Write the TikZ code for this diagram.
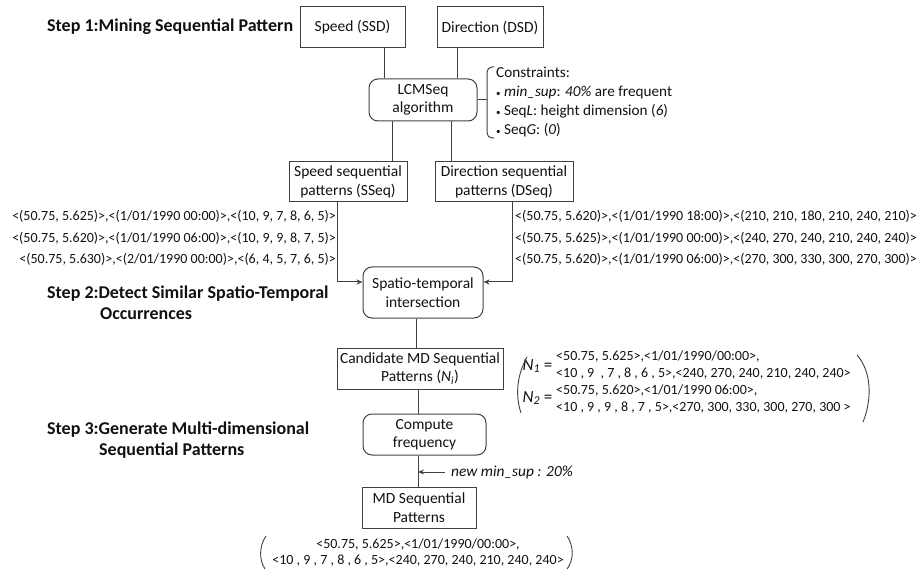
\documentclass[tikz,border=0pt]{standalone}
\usepackage{fontspec}
\setmainfont{Carlito}
\usetikzlibrary{arrows.meta}
\newcommand\myfs[2]{\fontsize{#1}{#2}\selectfont}
\definecolor{lc}{HTML}{404040}
\definecolor{tc}{HTML}{111111}
\begin{document}
\begin{tikzpicture}[x=1pt,y=-1pt,
  line/.style={draw=lc, line width=1pt},
  box/.style={draw=lc, line width=1pt, inner sep=0pt, align=center, text=tc, font=\myfs{15.5}{18.5}},
  rbox/.style={box, rounded corners=9pt},
  arr/.style={line, -{Stealth[length=6pt,width=5pt]}},
  steplab/.style={anchor=west, align=left, inner sep=0pt, text=tc, font=\bfseries\myfs{18}{21}},
  data/.style={inner sep=0pt, text=tc, font=\myfs{14}{21.3}},
  ndata/.style={inner sep=0pt, text=tc, font=\myfs{14}{16.7}},
  paren/.style={draw=lc, line width=0.9pt}]
\useasboundingbox (0,0) rectangle (924,572);

% step labels
\node[steplab] (s1) at (47,27) {Step 1:Mining Sequential Pattern};
\node[steplab] (s2) at (47,302.5) {Step 2:Detect Similar Spatio-Temporal\\\hspace*{53pt}Occurrences};
\node[steplab] (s3) at (47,440.5) {Step 3:Generate Multi-dimensional\\\hspace*{52pt}Sequential Patterns};

% boxes
\node[box, minimum width=105pt, minimum height=41pt] (ssd) at (352.5,27.5) {Speed (SSD)};
\node[box, minimum width=106pt, minimum height=41pt] (dsd) at (490,27.5) {Direction (DSD)};
\node[rbox, minimum width=108pt, minimum height=42pt] (lcm) at (423,100) {LCMSeq\\algorithm};
\node[box, minimum width=118pt, minimum height=40pt] (sseq) at (348,182) {Speed sequential\\patterns (SSeq)};
\node[box, minimum width=138pt, minimum height=40pt] (dseq) at (504,182) {Direction sequential\\patterns (DSeq)};
\node[rbox, minimum width=120pt, minimum height=51pt] (spt) at (423,292.5) {Spatio-temporal\\intersection};
\node[box, minimum width=166pt, minimum height=41pt] (cand) at (420,368.5) {Candidate MD Sequential\\Patterns (\textit{N}\textsubscript{\textit{i}})};
\node[rbox, minimum width=123pt, minimum height=41pt] (comp) at (424.5,434.5) {Compute\\frequency};
\node[box, minimum width=114pt, minimum height=41pt] (md) at (419,507.5) {MD Sequential\\Patterns};

% constraints
\node[anchor=west, align=left, inner sep=0pt, text=tc, font=\myfs{15.2}{19}] (cons) at (496,101.5)
 {Constraints:\\
  {\myfs{9}{9}•} \textit{min\_sup}: \textit{40\%} are frequent\\
  {\myfs{9}{9}•} Seq\textit{L}: height dimension (\textit{6})\\
  {\myfs{9}{9}•} Seq\textit{G}: (\textit{0})};
\coordinate (br) at (487,100);
\draw[line] (lcm.east) -- (br);
\draw[line, rounded corners=5pt] ([xshift=7pt,yshift=33pt]br) -- ([yshift=33pt]br) -- ([yshift=-38pt]br) -- ([xshift=7pt,yshift=-38pt]br);

% sequence data
\node[data, anchor=east, align=right] (sdat) at (336,238) {<(50.75, 5.625)>,<(1/01/1990 00:00)>,<(10, 9, 7, 8, 6, 5)>\\<(50.75, 5.620)>,<(1/01/1990 06:00)>,<(10, 9, 9, 8, 7, 5)>\\<(50.75, 5.630)>,<(2/01/1990 00:00)>,<(6, 4, 5, 7, 6, 5)>};
\node[data, anchor=west, align=left] (ddat) at (515,238) {<(50.75, 5.620)>,<(1/01/1990 18:00)>,<(210, 210, 180, 210, 240, 210)>\\<(50.75, 5.625)>,<(1/01/1990 00:00)>,<(240, 270, 240, 210, 240, 240)>\\<(50.75, 5.620)>,<(1/01/1990 06:00)>,<(270, 300, 330, 300, 270, 300)>};

% connector x positions
\coordinate (xa) at (384,0);
\coordinate (xb) at (457,0);
\coordinate (xc) at (392,0);
\coordinate (xd) at (451,0);
\coordinate (xe) at (337,0);
\coordinate (xf) at (512,0);
\coordinate (xg) at (416,0);
\coordinate (xh) at (418,0);

\draw[line] (xa |- ssd.south) -- (xa |- lcm.north);
\draw[line] (xb |- dsd.south) -- (xb |- lcm.north);
\draw[line] (xc |- lcm.south) -- (xc |- sseq.north);
\draw[line] (xd |- lcm.south) -- (xd |- dseq.north);
\draw[arr] (xe |- sseq.south) |- ([yshift=10.5pt]spt.west);
\draw[arr] (xf |- dseq.south) |- ([yshift=10.5pt]spt.east);
\draw[line] (xg |- spt.south) -- (xg |- cand.north);
\draw[line] (xh |- cand.south) -- (xh |- comp.north);
\draw[line] (xh |- comp.south) -- (xh |- md.north);

% new min_sup
\coordinate (ms) at (445,472);
\draw[arr] (ms) -- (ms -| xh);
\node[anchor=west, inner sep=0pt, text=tc, font=\itshape\myfs{15.4}{17}] (mst) at (451,472) {new min\_sup : 20\%};

% N block
\node[inner sep=0pt, text=tc, font=\myfs{17}{17}] (n1) at (537.5,366) {\textit{N}\textsubscript{\textit{1}} =};
\node[inner sep=0pt, text=tc, font=\myfs{17}{17}] (n2) at (537.5,398) {\textit{N}\textsubscript{\textit{2}} =};
\node[ndata, anchor=west, align=left] (ndat) at (556,382) {<50.75, 5.625>,<1/01/1990/00:00>,\\<10 , 9 \ , 7 , 8 , 6 , 5>,<240, 270, 240, 210, 240, 240>\\<50.75, 5.620>,<1/01/1990 06:00>,\\<10 , 9 , 9 , 8 , 7 , 5>,<270, 300, 330, 300, 270, 300 >};
\draw[paren] (527,357) .. controls (517,375) and (515,395) .. (521,413);
\draw[paren] (857,355) .. controls (872,372) and (872,400) .. (863,422);

% result
\node[ndata, align=center] (res) at (418,552.5) {<50.75, 5.625>,<1/01/1990/00:00>,\\<10 , 9 , 7 , 8 , 6 , 5>,<240, 270, 240, 210, 240, 240>};
\draw[paren] (266,536) .. controls (259,546) and (259,560) .. (265,569);
\draw[paren] (567,536) .. controls (574,546) and (574,560) .. (567,569);
\end{tikzpicture}
\end{document}
